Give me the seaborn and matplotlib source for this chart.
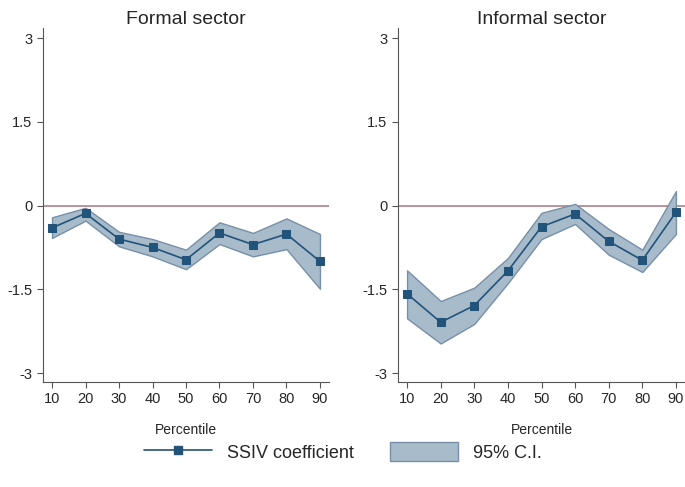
import numpy as np
import pandas as pd
import seaborn as sns
import matplotlib.pyplot as plt
from matplotlib.lines import Line2D
from matplotlib.patches import Patch

percentiles = [10, 20, 30, 40, 50, 60, 70, 80, 90]

formal_coef = [-0.40, -0.14, -0.60, -0.75, -0.97, -0.49, -0.70, -0.51, -1.00]
formal_hi = [-0.21, -0.04, -0.47, -0.60, -0.79, -0.30, -0.49, -0.23, -0.51]
formal_lo = [-0.58, -0.27, -0.73, -0.91, -1.14, -0.69, -0.91, -0.78, -1.49]

informal_coef = [-1.58, -2.09, -1.79, -1.17, -0.38, -0.15, -0.64, -0.98, -0.12]
informal_hi = [-1.16, -1.71, -1.47, -0.94, -0.13, 0.03, -0.42, -0.79, 0.26]
informal_lo = [-2.02, -2.47, -2.12, -1.39, -0.60, -0.33, -0.88, -1.19, -0.51]

titles = ['Formal sector', 'Informal sector']
yticks = [-3, -1.5, 0, 1.5, 3]
ytick_labels = ['-3', '-1.5', '0', '1.5', '3']

navy = '#22537a'
fill_col = '#a8bbcb'
edge_col = '#7790a7'
zero_col = '#b58a90'

sns.set_style('ticks')
plt.rcParams['font.family'] = ['Liberation Sans', 'DejaVu Sans']

fig = plt.figure(figsize=(6.85, 4.87), dpi=100)
ax1 = fig.add_axes([43 / 685, 1 - 382 / 487, 286 / 685, 354 / 487])
ax2 = fig.add_axes([398 / 685, 1 - 382 / 487, 287 / 685, 354 / 487])

datasets = [
    (formal_coef, formal_lo, formal_hi),
    (informal_coef, informal_lo, informal_hi),
]

for ax, title, (coef, lo, hi) in zip([ax1, ax2], titles, datasets):
    df = pd.DataFrame({'pct': percentiles, 'coef': coef, 'lo': lo, 'hi': hi})
    ax.axhline(0, color=zero_col, lw=1.3, zorder=1)
    ax.fill_between(df['pct'], df['lo'], df['hi'], facecolor=fill_col,
                    edgecolor=edge_col, lw=1.0, zorder=2)
    sns.lineplot(data=df, x='pct', y='coef', ax=ax, color=navy, lw=1.2,
                 marker='s', markersize=6, markeredgecolor=navy, zorder=3)
    ax.set_xlim(7.3, 92.7)
    ax.set_ylim(-3.16, 3.18)
    ax.set_xticks(percentiles)
    ax.set_yticks(yticks)
    ax.set_yticklabels(ytick_labels)
    ax.set_xlabel('Percentile', fontsize=10, labelpad=12)
    ax.set_ylabel('')
    ax.set_title(title, fontsize=14, pad=3)
    ax.tick_params(axis='both', labelsize=10.5, color='#555555', length=4)
    for side in ['left', 'bottom']:
        ax.spines[side].set_color('#555555')
    sns.despine(ax=ax)

handles = [
    Line2D([0], [0], color=navy, lw=1.2, marker='s', markersize=6),
    Patch(facecolor=fill_col, edgecolor=edge_col),
]
fig.legend(handles, ['SSIV coefficient', '95% C.I.'], loc='center',
           bbox_to_anchor=(0.5, 1 - 452 / 487), ncol=2, frameon=False,
           fontsize=13, handlelength=3.8, handleheight=1.2, columnspacing=2.0)

fig.savefig('out.png', dpi=100)
